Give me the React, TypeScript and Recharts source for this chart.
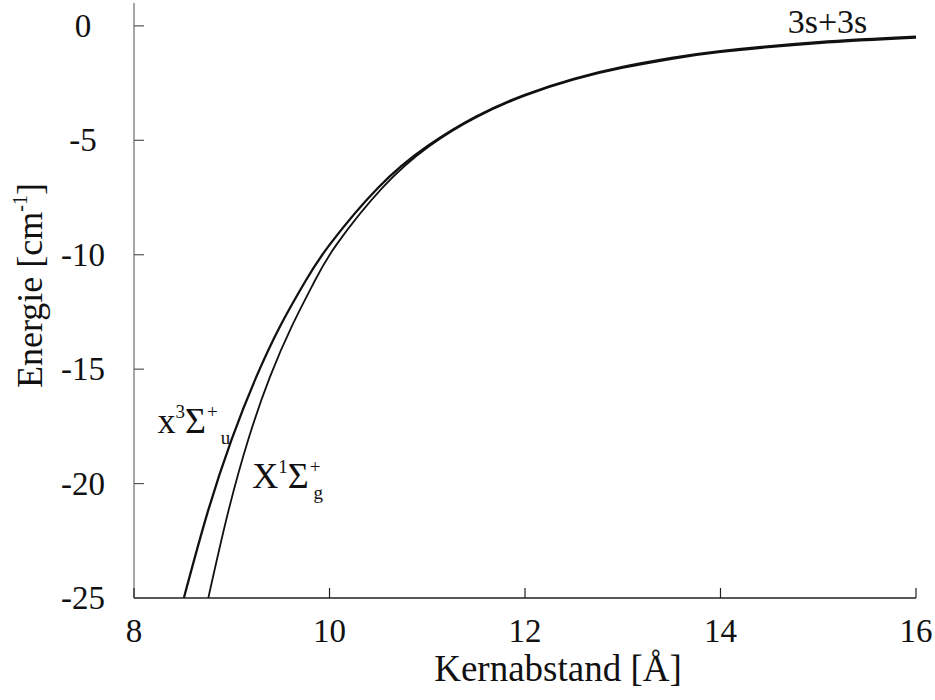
import React from "react";
import {
  LineChart,
  Line,
  XAxis,
  YAxis,
  ReferenceDot,
  Label,
} from "recharts";

// x^3 Sigma_u^+ (triplet) curve
const tripletR = [8.51, 8.75, 9.0, 9.25, 9.5, 9.75, 10.0, 10.5, 11.0, 11.5, 12.0, 12.5, 13.0, 13.5, 14.0, 15.0, 16.0];
const tripletE = [-25, -21.3, -18.06, -15.35, -13.08, -11.18, -9.57, -7.06, -5.26, -3.96, -3.01, -2.31, -1.79, -1.4, -1.1, -0.71, -0.47];

// X^1 Sigma_g^+ (singlet) curve
const singletR = [8.76, 8.96, 9.17, 9.39, 9.62, 9.845, 10.07, 10.545, 11.02, 11.5, 12.0, 12.5, 13.0, 13.5, 14.0, 15.0, 16.0];
const singletE = [-25, -21.3, -18.06, -15.35, -13.08, -11.18, -9.57, -7.06, -5.26, -4.0, -3.05, -2.35, -1.84, -1.45, -1.15, -0.76, -0.52];

const xTicks = [8, 10, 12, 14, 16];
const yTicks = [-25, -20, -15, -10, -5, 0];

const tripletData = tripletR.map((r, i) => ({ r, e: tripletE[i] }));
const singletData = singletR.map((r, i) => ({ r, e: singletE[i] }));

const FONT = "'Liberation Serif', Tinos, 'Times New Roman', 'Nimbus Roman', 'DejaVu Serif', 'Noto Serif', serif";
const INK = "#111";

const BottomTick = ({ x, y, payload }: any) => (
  <g>
    <line x1={x} x2={x} y1={y} y2={y - 10} stroke="#222" strokeWidth={1.2} />
    <text x={x} y={y + 44} textAnchor="middle" style={{ fontFamily: FONT }} fontSize={33} fill={INK}>
      {payload.value}
    </text>
  </g>
);

const LeftTick = ({ x, y, payload }: any) => (
  <g>
    <line x1={x} x2={x + 10} y1={y} y2={y} stroke="#555" strokeWidth={1.2} />
    <text x={x - 51} y={y + 11} textAnchor="middle" style={{ fontFamily: FONT }} fontSize={33} fill={INK}>
      {payload.value}
    </text>
  </g>
);

const TopTick = ({ x, y }: any) => (
  <line x1={x} x2={x} y1={y} y2={y + 10} stroke="#333" strokeWidth={1.2} />
);

const RightTick = ({ x, y }: any) => (
  <line x1={x} x2={x - 10} y1={y} y2={y} stroke="#777" strokeWidth={1.2} />
);

// term symbol label: main size + small super/subscripts
const termLabel = (parts: Array<[string, string, number?]>, size: number) => (p: any) => (
  <text x={p.cx} y={p.cy} style={{ fontFamily: FONT }} fontSize={size} fill={INK}>
    {parts.map(([t, kind, dx], i) => {
      if (kind === "sup")
        return (
          <tspan key={i} y={p.cy - 15} fontSize={19} dx={dx || 0}>
            {t}
          </tspan>
        );
      if (kind === "sub")
        return (
          <tspan key={i} y={p.cy + 11} fontSize={19} dx={dx || 0}>
            {t}
          </tspan>
        );
      return (
        <tspan key={i} y={p.cy} dx={dx || 0}>
          {t}
        </tspan>
      );
    })}
  </text>
);

const XTitle = ({ viewBox }: any) => (
  <text
    x={viewBox.x + viewBox.width / 2 + 33}
    y={viewBox.y + 83}
    textAnchor="middle"
    style={{ fontFamily: FONT }}
    fontSize={37}
    fill={INK}
  >
    Kernabstand [Å]
  </text>
);

const YTitle = ({ viewBox }: any) => {
  const cx = 30;
  const cy = viewBox.y + viewBox.height / 2 - 15;
  return (
    <text
      transform={`translate(${cx},${cy}) rotate(-90)`}
      x={0}
      y={12}
      textAnchor="middle"
      style={{ fontFamily: FONT }}
      fontSize={36}
      fill={INK}
    >
      Energie [cm
      <tspan fontSize={20} dy={-15}>-1</tspan>
      <tspan dy={15}>]</tspan>
    </text>
  );
};

export default function App() {
  return (
    <div style={{ position: "absolute", left: 0, top: 0, background: "#fff", fontFamily: FONT }}>
      <LineChart width={935} height={700} margin={{ top: 3, right: 19, bottom: 0, left: 0 }}>
        <XAxis
          xAxisId="b"
          dataKey="r"
          type="number"
          domain={[8, 16]}
          ticks={xTicks}
          orientation="bottom"
          height={102}
          tickSize={0}
          tickMargin={0}
          tickLine={false}
          axisLine={{ stroke: "#222", strokeWidth: 1.4 }}
          tick={<BottomTick />}
          allowDuplicatedCategory={false}
        >
          <Label content={<XTitle />} />
        </XAxis>
        <XAxis
          xAxisId="t"
          type="number"
          domain={[8, 16]}
          ticks={xTicks}
          orientation="top"
          height={0}
          tickSize={0}
          tickMargin={0}
          tickLine={false}
          axisLine={{ stroke: "#888", strokeWidth: 1.5 }}
          tick={<TopTick />}
        />
        <YAxis
          yAxisId="l"
          type="number"
          domain={[-25, 1]}
          ticks={yTicks}
          orientation="left"
          width={134}
          tickSize={0}
          tickMargin={0}
          tickLine={false}
          axisLine={{ stroke: "#888", strokeWidth: 1.5 }}
          tick={<LeftTick />}
        >
          <Label content={<YTitle />} />
        </YAxis>
        <YAxis
          yAxisId="r"
          type="number"
          domain={[-25, 1]}
          ticks={yTicks}
          orientation="right"
          width={0}
          tickSize={0}
          tickMargin={0}
          tickLine={false}
          axisLine={{ stroke: "#888", strokeWidth: 1.5 }}
          tick={<RightTick />}
        />
        <Line
          xAxisId="b"
          yAxisId="l"
          data={tripletData}
          dataKey="e"
          type="natural"
          stroke={INK}
          strokeWidth={2.3}
          dot={false}
          isAnimationActive={false}
        />
        <Line
          xAxisId="b"
          yAxisId="l"
          data={singletData}
          dataKey="e"
          type="natural"
          stroke={INK}
          strokeWidth={1.8}
          dot={false}
          isAnimationActive={false}
        />
        <ReferenceDot
          xAxisId="b"
          yAxisId="l"
          x={15.095}
          y={-0.31}
          r={0}
          ifOverflow="visible"
          shape={(p: any) => (
            <text x={p.cx} y={p.cy} textAnchor="middle" style={{ fontFamily: FONT }} fontSize={34} fill={INK}>
              3s+3s
            </text>
          )}
        />
        <ReferenceDot
          xAxisId="b"
          yAxisId="l"
          x={8.24}
          y={-17.8}
          r={0}
          ifOverflow="visible"
          shape={termLabel(
            [
              ["x", "n"],
              ["3", "sup"],
              ["Σ", "n"],
              ["+", "sup", 1],
              ["u", "sub", 3],
            ],
            36
          )}
        />
        <ReferenceDot
          xAxisId="b"
          yAxisId="l"
          x={9.21}
          y={-20.21}
          r={0}
          ifOverflow="visible"
          shape={termLabel(
            [
              ["X", "n"],
              ["1", "sup"],
              ["Σ", "n"],
              ["+", "sup", 1],
              ["g", "sub", -7],
            ],
            36
          )}
        />
      </LineChart>
    </div>
  );
}
